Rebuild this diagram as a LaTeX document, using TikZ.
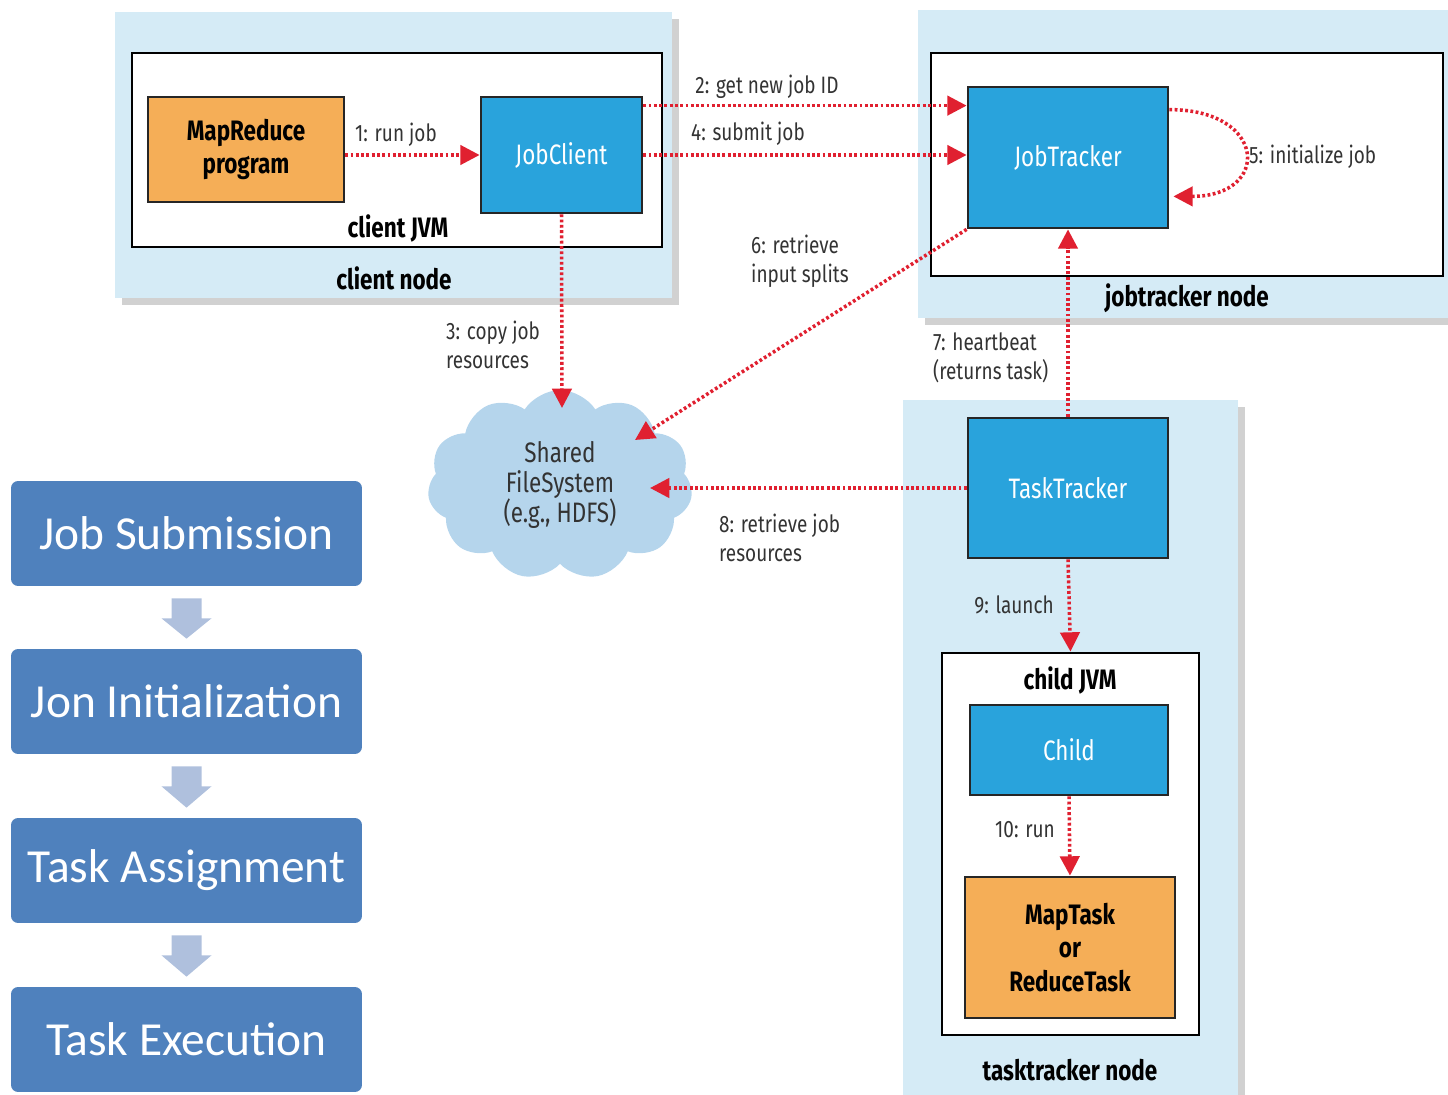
\documentclass[tikz,border=0pt]{standalone}
\usepackage{fontspec}
\usepackage{tikz}
\usetikzlibrary{shapes.symbols,arrows.meta,calc,shadows}
\newfontfamily\diafont[FakeStretch=0.8]{Fira Sans}
\newfontfamily\stepfont{Carlito}
\definecolor{regionblue}{HTML}{D5EBF6}
\definecolor{procblue}{HTML}{29A3DC}
\definecolor{taskorange}{HTML}{F5AE57}
\definecolor{flowred}{HTML}{E02030}
\definecolor{cloudblue}{HTML}{B5D5EC}
\definecolor{stepblue}{HTML}{4F81BD}
\definecolor{steparrow}{HTML}{AFC0DD}
\definecolor{labelgrey}{HTML}{333333}

\begin{document}
\begin{tikzpicture}[x=0.02cm, y=-0.02cm,
  region/.style={fill=regionblue, draw=none, drop shadow={shadow xshift=4pt, shadow yshift=-4pt, opacity=0.3, fill=black!60}},
  jvm/.style={fill=white, draw=black, line width=1.6pt},
  proc/.style={fill=procblue, draw=black!85, line width=1.6pt, text=white, font=\diafont\fontsize{16}{19}\selectfont},
  task/.style={fill=taskorange, draw=black!85, line width=1.6pt, align=center, font=\diafont\bfseries\fontsize{16}{19}\selectfont},
  nodelabel/.style={font=\diafont\bfseries\fontsize{16}{19}\selectfont},
  flowlabel/.style={text=labelgrey, align=left, font=\diafont\fontsize{13.5}{16.5}\selectfont},
  flow/.style={draw=flowred, line width=2pt, dash pattern=on 1.6pt off 1.4pt, -{Triangle[length=11pt,width=11pt]}},
  stepbox/.style={fill=stepblue, rounded corners=4pt, minimum width=7.02cm, minimum height=2.1cm, text=white, font=\stepfont\fontsize{27}{31}\selectfont}
  ]
  \useasboundingbox (0,0) rectangle (1448,1095);

  \node[region, minimum width=11.14cm, minimum height=5.72cm] (cnode) at (393.5,155) {};
  \node[region, minimum width=10.6cm, minimum height=6.16cm] (jnode) at (1183,164) {};
  \node[region, minimum width=6.7cm, minimum height=14cm] (tnode) at (1070.5,750) {};

  \node[jvm, minimum width=10.6cm, minimum height=3.88cm] (cjvm) at (397,150) {};
  \node[jvm, minimum width=10.24cm, minimum height=4.46cm] (jjvm) at (1187,164.5) {};
  \node[jvm, minimum width=5.14cm, minimum height=7.64cm] (chjvm) at (1070.5,844) {};

  \node[task, minimum width=3.92cm, minimum height=2.1cm] (mr) at (246,149.5) {MapReduce\\program};
  \node[proc, minimum width=3.22cm, minimum height=2.32cm] (jc) at (561.5,155) {JobClient};
  \node[proc, minimum width=4cm, minimum height=2.82cm] (jt) at (1068,157.5) {JobTracker};
  \node[proc, minimum width=4cm, minimum height=2.8cm] (tt) at (1068,488) {TaskTracker};
  \node[proc, minimum width=3.96cm, minimum height=1.8cm] (ch) at (1069,750) {Child};
  \node[task, minimum width=4.2cm, minimum height=2.82cm] (mt) at (1070,947.5) {MapTask\\or\\ReduceTask};

  \node[cloud, cloud puffs=11, cloud puff arc=115, aspect=1.4, fill=cloudblue, minimum width=5.3cm, minimum height=3.8cm,
    align=center, text=labelgrey, font=\diafont\fontsize{16}{17}\selectfont] (fs) at (560,485) {Shared\\FileSystem\\(e.g., HDFS)};
  \coordinate (fs3) at ($(fs.center)+(2,-77)$);
  \coordinate (fs6) at ($(fs.center)+(75,-45)$);
  \coordinate (fs8) at ($(fs.center)+(90,5)$);
  \coordinate (jc2) at ($(jc.north east)+(0,10)$);

  \node[nodelabel] (cjvmlabel) at (398,228) {client JVM};
  \node[nodelabel] (cnodelabel) at (394,278) {client node};
  \node[nodelabel] (jnodelabel) at (1187,298) {jobtracker node};
  \node[nodelabel] (chjvmlabel) at (1070,680) {child JVM};
  \node[nodelabel] (tnodelabel) at (1070,1070) {tasktracker node};

  \draw[flow] (mr.east |- jc.west) -- (jc.west);
  \draw[flow] (jc2) -- (jc2 -| jt.west);
  \draw[flow] (jc.east) -- (jc.east -| jt.west);
  \draw[flow] ($(jt.north east)+(0,24)$) .. controls +(98,0) and +(98,0) .. ($(jt.south east)+(4,-33)$);
  \draw[flow] (jc.south) -- (fs3);
  \draw[flow] (jt.south west) -- (fs6);
  \draw[flow] (tt.north) -- (jt.south);
  \draw[flow] (tt.west) -- (fs8 |- tt.west);
  \draw[flow] (tt.south) -- (chjvm.north);
  \draw[flow] (ch.south) -- (mt.north);

  \node[flowlabel] (l1) at (396,135) {1: run job};
  \node[flowlabel] (l2) at (767,87) {2: get new job ID};
  \node[flowlabel] (l4) at (748,134) {4: submit job};
  \node[flowlabel, anchor=west] (l5) at (1243,157) {5: initialize job};
  \node[flowlabel, anchor=west] (l6) at (745,261) {6: retrieve\\input splits};
  \node[flowlabel, anchor=west] (l3) at (440,345) {3: copy job\\resources};
  \node[flowlabel, anchor=west] (l7) at (927,358) {7: heartbeat\\(returns task)};
  \node[flowlabel, anchor=west] (l8) at (713,538) {8: retrieve job\\resources};
  \node[flowlabel] (l9) at (1014,605) {9: launch};
  \node[flowlabel] (l10) at (1025,830) {10: run};

  \node[stepbox] (s1) at (186.5,533.5) {Job Submission};
  \node[stepbox] (s2) at (186.5,701.5) {Jon Initialization};
  \node[stepbox] (s3) at (186.5,870.5) {Task Assignment};
  \node[stepbox] (s4) at (186.5,1039.5) {Task Execution};
  \foreach \a/\b in {s1/s2,s2/s3,s3/s4}
    \fill[steparrow] ($(\a.south)+(-15,12)$) -- ($(\a.south)+(15,12)$) -- ($(\a.south)+(15,32)$)
      -- ($(\a.south)+(25,32)$) -- ($(\b.north)+(0,-10)$) -- ($(\a.south)+(-25,32)$) -- ($(\a.south)+(-15,32)$) -- cycle;
\end{tikzpicture}
\end{document}
